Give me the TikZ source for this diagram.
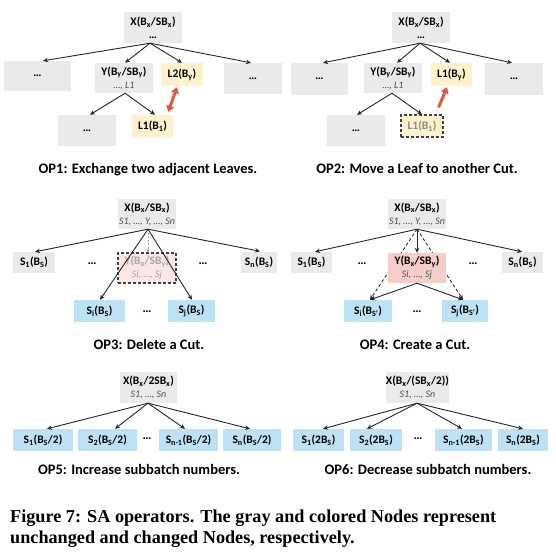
\documentclass[tikz,border=0pt]{standalone}
\usepackage{fontspec}
\setmainfont{Carlito}
\newfontfamily\capfont{Liberation Serif}
\usetikzlibrary{arrows.meta,calc}
\definecolor{gfill}{RGB}{234,234,234}
\definecolor{yfill}{RGB}{255,241,204}
\definecolor{bfill}{RGB}{189,225,246}
\definecolor{pfill}{RGB}{247,205,200}
\definecolor{pfaint}{RGB}{252,231,228}
\definecolor{redarr}{RGB}{228,86,62}
\definecolor{itgray}{RGB}{80,80,80}
\newcommand\su[1]{\textsubscript{#1}}
\newcommand\ital[1]{{\mdseries\itshape\fontsize{10}{13}\selectfont #1}}
\tikzset{
 lab/.style={font=\bfseries\fontsize{11.5}{13}\selectfont, inner sep=0pt, align=center},
 gbox/.style={lab, fill=gfill},
 ybox/.style={lab, fill=yfill},
 bbox/.style={lab, fill=bfill},
 arr/.style={draw=black!85, line width=0.9pt, -{Stealth[length=5pt,width=4.5pt]}},
 darr/.style={arr, dash pattern=on 3pt off 2.5pt},
 ttl/.style={font=\bfseries\fontsize{14.5}{16}\selectfont, anchor=base, inner sep=0pt},
 dots/.style={font=\bfseries\fontsize{12.5}{13}\selectfont, inner sep=0pt},
 fat/.style={draw=redarr, line width=3pt, -{Triangle[length=6pt,width=8pt]}},
 dbox/.style={draw=black!75, dash pattern=on 3pt off 2pt, line width=1.1pt},
 capt/.style={font=\capfont\bfseries\fontsize{18.2}{21}\selectfont, anchor=base west, inner sep=0pt},
}
\begin{document}
\begin{tikzpicture}[x=1pt,y=-1pt]
\useasboundingbox (0,0) rectangle (555,556);

% ---------------- OP1
\node[gbox, minimum width=58, minimum height=31] (x1) at (153,27.5) {X(B\su{x}/SB\su{x})\\…};
\node[gbox, minimum width=67, minimum height=30] (a1) at (37.5,76) {…};
\node[gbox, minimum width=58, minimum height=30] (y1) at (124,78) {Y(B\su{y}/SB\su{y})\\{\color{itgray}\ital{…, L1}}};
\node[ybox, minimum width=42, minimum height=23] (l21) at (182,74.5) {L2(B\su{y})};
\node[gbox, minimum width=58, minimum height=31] (r1) at (253,78.5) {…};
\node[gbox, minimum width=58, minimum height=31] (b1) at (87,130.5) {…};
\node[ybox, minimum width=41, minimum height=22] (l11) at (152.5,126) {L1(B\su{1})};
\draw[arr] ([xshift=-3]x1.south) -- ([xshift=5.5]a1.north);
\draw[arr] ([xshift=-3]x1.south) -- ([xshift=1]y1.north);
\draw[arr] ([xshift=-3]x1.south) -- (l21.north);
\draw[arr] ([xshift=-3]x1.south) -- ([xshift=-2]r1.north);
\draw[arr] ([xshift=1]y1.south) -- ([xshift=3]b1.north);
\draw[arr] ([xshift=1]y1.south) -- ([xshift=2.5]l11.north);
\draw[fat, {Triangle[length=6pt,width=8pt]}-{Triangle[length=6pt,width=8pt]}] ($(l11.north east)+(-5,-3)$) -- ($(l21.south)+(-5,1)$);
\node[ttl] (t1) at (148,174) {OP1: Exchange two adjacent Leaves.};

% ---------------- OP2
\node[gbox, minimum width=58, minimum height=31] (x2) at (421,27.5) {X(B\su{x}/SB\su{x})\\…};
\node[gbox, minimum width=57, minimum height=32] (a2) at (319.5,79) {…};
\node[gbox, minimum width=58, minimum height=30] (y2) at (393,78) {Y(B\su{y}/SB\su{y})\\{\color{itgray}\ital{…, L1}}};
\node[ybox, minimum width=41, minimum height=23] (l12) at (451.5,74.5) {L1(B\su{y})};
\node[gbox, minimum width=58, minimum height=32] (r2) at (514,79) {…};
\node[gbox, minimum width=58, minimum height=31] (b2) at (356,130.5) {…};
\node[ybox, dbox, text=black!45, minimum width=42, minimum height=22] (l1d) at (422,126) {L1(B\su{1})};
\draw[arr] ([xshift=-1]x2.south) -- ([xshift=3.5]a2.north);
\draw[arr] ([xshift=-1]x2.south) -- ([xshift=4]y2.north);
\draw[arr] ([xshift=-1]x2.south) -- ([xshift=-1.5]l12.north);
\draw[arr] ([xshift=-1]x2.south) -- ([xshift=-2]r2.north);
\draw[arr] ([xshift=-1]y2.south) -- ([xshift=1]b2.north);
\draw[arr] ([xshift=-1]y2.south) -- (l1d.north);
\draw[fat] ($(l1d.north east)+(-5,-7)$) -- ($(l12.south)+(-4.5,1)$);
\node[ttl] (t2) at (417,174) {OP2: Move a Leaf to another Cut.};

% ---------------- OP3
\node[gbox, minimum width=58, minimum height=30] (x3) at (147,214) {X(B\su{x}/SB\su{x})\\{\color{itgray}\ital{S1, …, Y, …, Sn}}};
\node[gbox, minimum width=42, minimum height=21] (s13) at (34,262.5) {S\su{1}(B\su{S})};
\node[dots] (d31) at (92,264) {…};
\node[lab, fill=pfaint, dbox, text=black!35, minimum width=58, minimum height=30] (y3) at (147,268) {Y(B\su{x}/SB\su{y})\\\ital{Si, …, Sj}};
\node[dots] (d32) at (203,264) {…};
\node[gbox, minimum width=36, minimum height=21] (sn3) at (259,262) {S\su{n}(B\su{S})};
\node[bbox, minimum width=51, minimum height=22] (si3) at (99.5,311) {S\su{i}(B\su{S})};
\node[dots] (d33) at (147,312) {…};
\node[bbox, minimum width=47, minimum height=22] (sj3) at (191.5,311) {S\su{j}(B\su{S})};
\draw[arr] ([xshift=1]x3.south) -- ([xshift=1]s13.north);
\draw[arr] ([xshift=1]x3.south) -- ([xshift=1]sn3.north);
\draw[arr, draw=black!40, line width=0.6pt, dash pattern=on 2pt off 1.5pt, -{Stealth[length=3.5pt,width=3pt]}] ([xshift=1]x3.south) -- ([xshift=1]y3.north);
\draw[arr] ([xshift=1]x3.south) -- ([xshift=0.5]si3.north);
\draw[arr] ([xshift=1]x3.south) -- ([xshift=0.5]sj3.north);
\node[ttl] (t3) at (149,349) {OP3: Delete a Cut.};

% ---------------- OP4
\node[gbox, minimum width=58, minimum height=30] (x4) at (417,214) {X(B\su{x}/SB\su{x})\\{\color{itgray}\ital{S1, …, Y, …, Sn}}};
\node[gbox, minimum width=41, minimum height=21] (s14) at (311.5,262.5) {S\su{1}(B\su{S})};
\node[dots] (d41) at (362,264) {…};
\node[dots] (d42) at (473,264) {…};
\node[gbox, minimum width=41, minimum height=21] (sn4) at (522.5,262.5) {S\su{n}(B\su{S})};
\node[bbox, minimum width=48, minimum height=22] (si4) at (368,311) {S\su{i}(B\su{S'})};
\node[dots] (d43) at (417,312) {…};
\node[bbox, minimum width=46, minimum height=22] (sj4) at (465,311) {S\su{j}(B\su{S'})};
\draw[darr] (x4.south) -- ([xshift=2]si4.north);
\draw[darr] (x4.south) -- ([xshift=-2]sj4.north);
\node[lab, fill=pfill, minimum width=58, minimum height=30] (y4) at (417,268) {Y(B\su{x}/SB\su{y})\\{\color{itgray}\ital{Si, …, Sj}}};
\draw[arr] (x4.south) -- ([xshift=3.5]s14.north);
\draw[arr] (x4.south) -- ([xshift=-0.5]sn4.north);
\draw[arr] (x4.south) -- (y4.north);
\draw[arr] (y4.south) -- ([xshift=2]si4.north);
\draw[arr] (y4.south) -- ([xshift=-2]sj4.north);
\node[ttl] (t4) at (415,349) {OP4: Create a Cut.};

% ---------------- OP5
\node[gbox, minimum width=57, minimum height=31] (x5) at (148.5,387.5) {X(B\su{x}/2SB\su{x})\\{\color{itgray}\ital{S1, …, Sn}}};
\node[bbox, minimum width=60, minimum height=22] (s15) at (43,440) {S\su{1}(B\su{S}/2)};
\node[bbox, minimum width=59, minimum height=22] (s25) at (107.5,440) {S\su{2}(B\su{S}/2)};
\node[dots] (d5) at (147,439) {…};
\node[bbox, minimum width=59, minimum height=22] (sm5) at (188.5,440) {S\su{n-1}(B\su{S}/2)};
\node[bbox, minimum width=58, minimum height=22] (sn5) at (252,440) {S\su{n}(B\su{S}/2)};
\draw[arr] ([xshift=-0.5]x5.south) -- ([xshift=4]s15.north);
\draw[arr] ([xshift=-0.5]x5.south) -- ([xshift=7.5]s25.north);
\draw[arr] ([xshift=-0.5]x5.south) -- ([xshift=-3.5]sm5.north);
\draw[arr] ([xshift=-0.5]x5.south) -- ([xshift=-2]sn5.north);
\node[ttl] (t5) at (139,474) {OP5: Increase subbatch numbers.};

% ---------------- OP6
\node[gbox, minimum width=59, minimum height=31] (x6) at (417.5,387.5) {X(B\su{x}/(SB\su{x}/2))\\{\color{itgray}\ital{S1, …, Sn}}};
\node[bbox, minimum width=51, minimum height=22] (s16) at (318.5,440) {S\su{1}(2B\su{S})};
\node[bbox, minimum width=52, minimum height=22] (s26) at (376,440) {S\su{2}(2B\su{S})};
\node[dots] (d6) at (418,439) {…};
\node[bbox, minimum width=57, minimum height=22] (sm6) at (463.5,440) {S\su{n-1}(2B\su{S})};
\node[bbox, minimum width=50, minimum height=22] (sn6) at (523,440) {S\su{n}(2B\su{S})};
\draw[arr] ([xshift=-0.5]x6.south) -- ([xshift=4.5]s16.north);
\draw[arr] ([xshift=-0.5]x6.south) -- ([xshift=-9]s26.north);
\draw[arr] ([xshift=-0.5]x6.south) -- ([xshift=-1.5]sm6.north);
\draw[arr] ([xshift=-0.5]x6.south) -- (sn6.north);
\node[ttl] (t6) at (428,474) {OP6: Decrease subbatch numbers.};

% ---------------- caption
\node[capt] (c1) at (10,522) {Figure 7: SA operators. The gray and colored Nodes represent};
\node[capt] (c2) at (10,543) {unchanged and changed Nodes, respectively.};
\end{tikzpicture}
\end{document}
